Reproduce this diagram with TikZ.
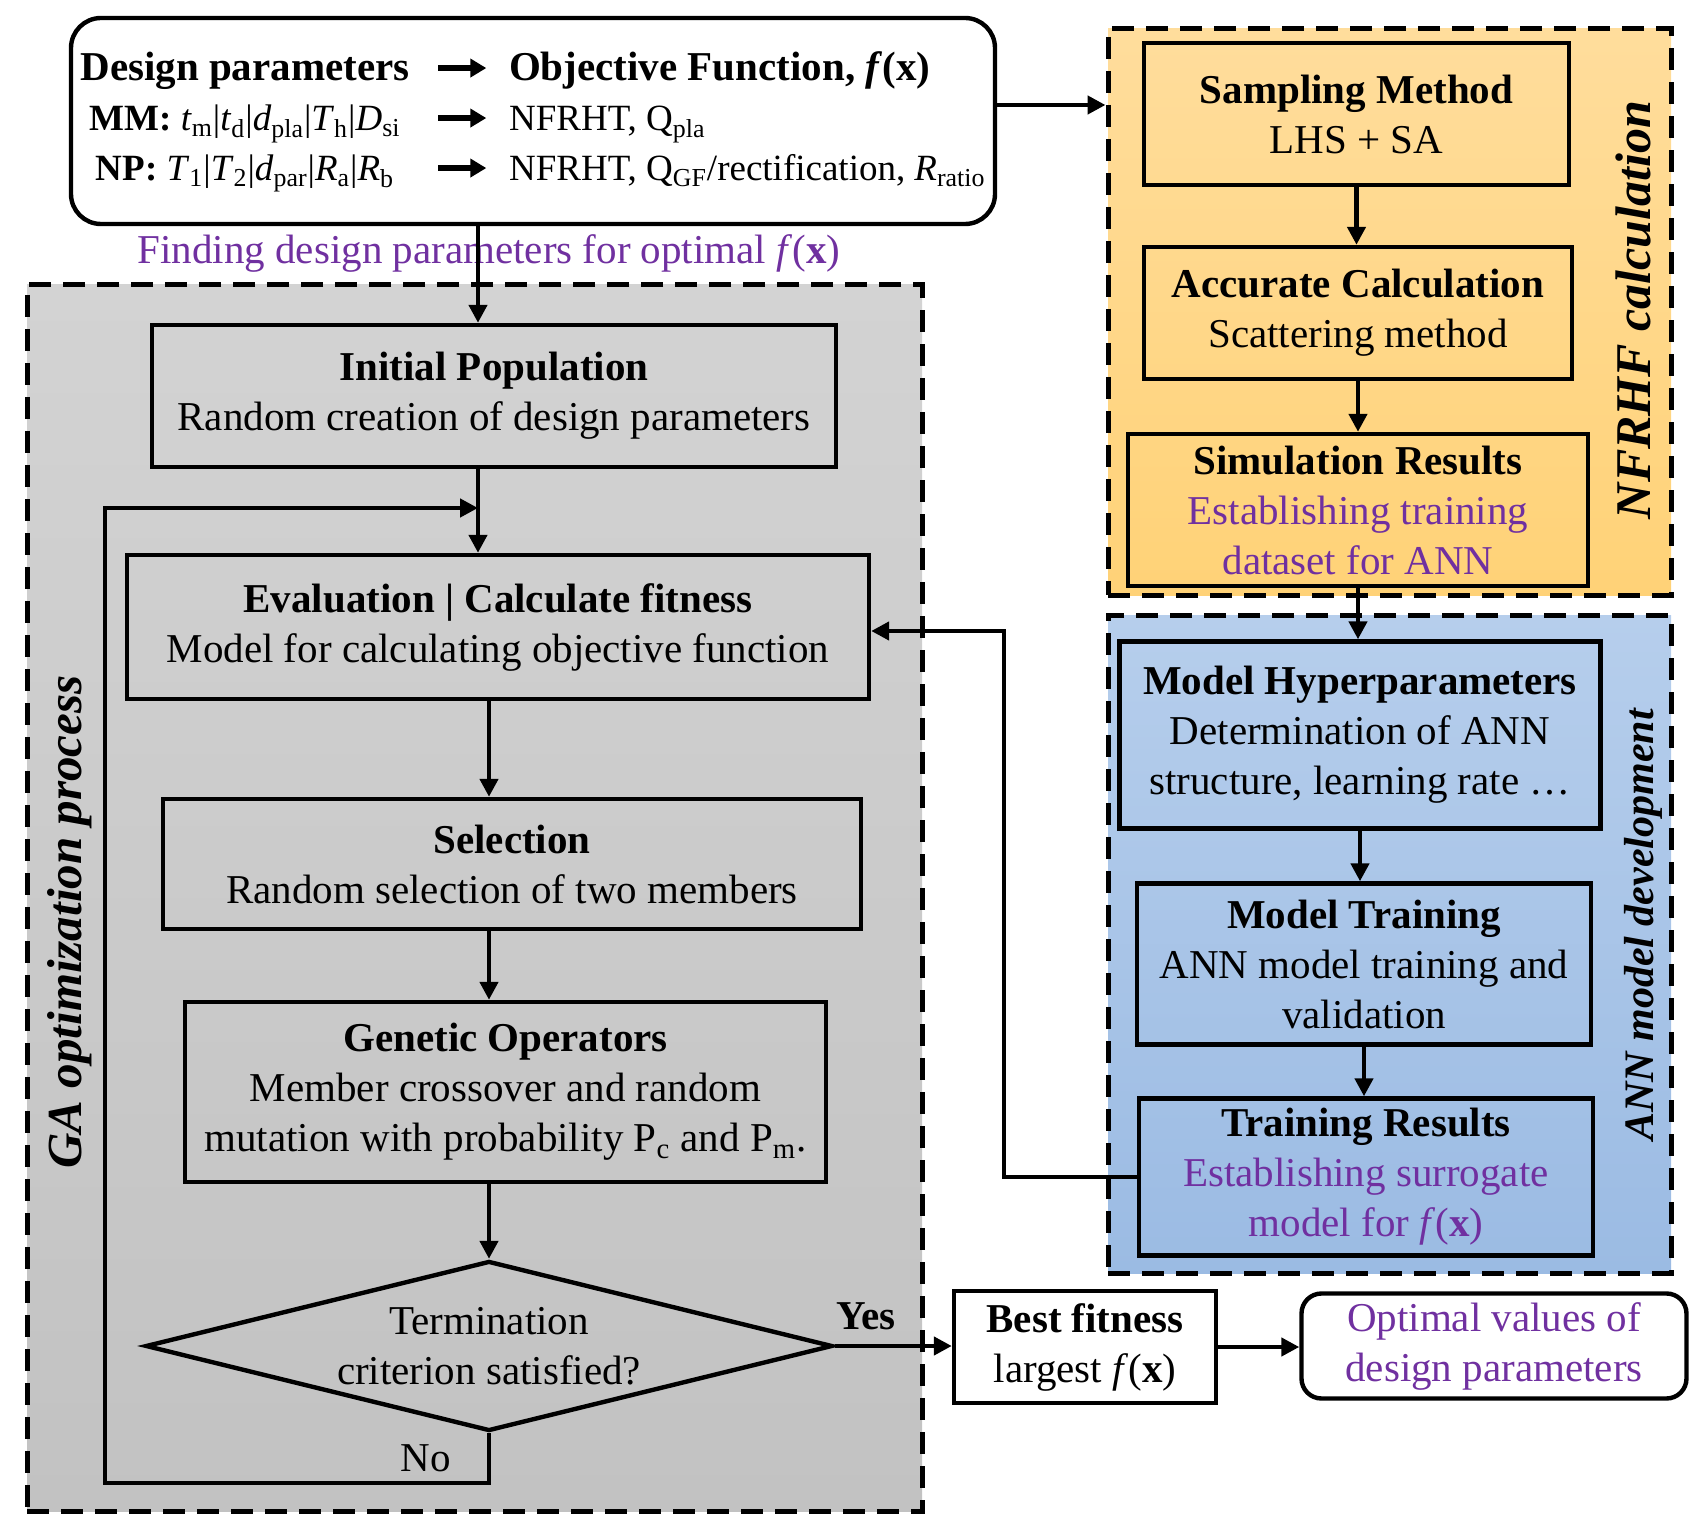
\documentclass[tikz,border=0pt]{standalone}
\usepackage{fontspec}
\setmainfont{Liberation Serif}
\usetikzlibrary{arrows.meta,shapes.geometric}

\definecolor{gaTop}{HTML}{D3D3D3}
\definecolor{gaBot}{HTML}{C2C2C2}
\definecolor{nfTop}{HTML}{FFDD9C}
\definecolor{nfBot}{HTML}{FFD277}
\definecolor{annTop}{HTML}{B6CEEC}
\definecolor{annBot}{HTML}{9BBBE3}
\definecolor{purp}{HTML}{7030A0}

\newcommand{\bigarr}{\tikz[baseline=-0.35em]\draw[line width=2.8pt,-{Triangle[length=8pt,width=9pt]}] (0pt,0pt) -- (24pt,0pt);}
\newcommand{\fx}{\textit{f}(\textbf{x})}

\tikzset{
  box/.style={draw, line width=2.2pt, align=center, inner sep=0pt},
  area/.style={draw, line width=2.5pt, dash pattern=on 11pt off 6pt, inner sep=0pt},
  arr/.style={line width=2.2pt, -{Triangle[length=9pt,width=9pt]}},
  sidelabel/.style={rotate=90, font=\fontsize{24.5}{28}\selectfont\bfseries\itshape}
}

\begin{document}
\begin{tikzpicture}[x=0.5pt, y=-0.5pt, every node/.style={font=\fontsize{20.5}{25}\selectfont}]
  \useasboundingbox (0,0) rectangle (1705,1530);

  % dashed regions
  \node[area, top color=gaTop, bottom color=gaBot, minimum width=447.5pt, minimum height=613pt] (gabox) at (474.5,898) {};
  \node[area, top color=nfTop, bottom color=nfBot, minimum width=281.5pt, minimum height=283pt] (nfbox) at (1389.5,312) {};
  \node[area, top color=annTop, bottom color=annBot, minimum width=281.5pt, minimum height=329pt] (annbox) at (1389.5,944) {};

  \node[sidelabel] (galabel) at (70,922) {GA optimization process};
  \node[sidelabel, font=\fontsize{25}{28}\selectfont\bfseries\itshape] (nflabel) at (1633,310) {NFRHF calculation};
  \node[sidelabel, font=\fontsize{21}{24}\selectfont\bfseries\itshape] (annlabel) at (1643,925) {ANN model development};

  % design parameters
  \node[box, rounded corners=15pt, minimum width=462pt, minimum height=103pt] (design) at (533,121) {%
    \fontsize{18.5}{25}\selectfont
    \begin{tabular}{@{}c@{\hspace{13pt}}c@{\hspace{10pt}}l@{}}
      {\fontsize{20.5}{25}\selectfont\bfseries Design parameters} & \bigarr & {\fontsize{20.5}{25}\selectfont\bfseries Objective Function, \fx}\\
      \textbf{MM:} \textit{t}\textsubscript{m}|\textit{t}\textsubscript{d}|\textit{d}\textsubscript{pla}|\textit{T}\textsubscript{h}|\textit{D}\textsubscript{si} & \bigarr & NFRHT, Q\textsubscript{pla}\\
      \textbf{NP:} \textit{T}\textsubscript{1}|\textit{T}\textsubscript{2}|\textit{d}\textsubscript{par}|\textit{R}\textsubscript{a}|\textit{R}\textsubscript{b} & \bigarr & NFRHT, Q\textsubscript{GF}/rectification, \textit{R}\textsubscript{ratio}
    \end{tabular}};
  \node[text=purp] (findtxt) at (489,253) {Finding design parameters for optimal \fx};

  % GA loop
  \node[box, minimum width=342pt, minimum height=71pt] (init) at (494,396) {\textbf{Initial Population}\\Random creation of design parameters};
  \node[box, minimum width=371pt, minimum height=72pt] (eval) at (498,627) {\textbf{Evaluation | Calculate fitness}\\Model for calculating objective function};
  \node[box, minimum width=349pt, minimum height=65pt] (select) at (512,864) {\textbf{Selection}\\Random selection of two members};
  \node[box, minimum width=320.5pt, minimum height=90pt] (genetic) at (505.5,1092) {\textbf{Genetic Operators}\\Member crossover and random\\mutation with probability P\textsubscript{c} and P\textsubscript{m}.};
  \node[box, diamond, aspect=4, minimum width=343.5pt, minimum height=85pt] (term) at (489,1346) {Termination\\criterion satisfied?};
  \node (yes) at (866,1316) {\textbf{Yes}};
  \node (no) at (426,1458) {No};

  % results
  \node[box, fill=white, minimum width=131pt, minimum height=56pt] (best) at (1085,1347) {\textbf{Best fitness}\\largest \fx};
  \node[box, fill=white, rounded corners=10pt, minimum width=192.5pt, minimum height=52.5pt, text=purp] (optimal) at (1494,1346) {Optimal values of\\design parameters};

  % NFRHF
  \node[box, minimum width=212.5pt, minimum height=71pt] (sampling) at (1356.5,114) {\textbf{Sampling Method}\\LHS + SA};
  \node[box, minimum width=214pt, minimum height=66pt] (accurate) at (1358,313) {\textbf{Accurate Calculation}\\Scattering method};
  \node[box, minimum width=230pt, minimum height=76pt] (simres) at (1358,510) {\textbf{Simulation Results}\\\textcolor{purp}{Establishing training}\\\textcolor{purp}{dataset for ANN}};

  % ANN
  \node[box, minimum width=240.5pt, minimum height=93.5pt] (hyper) at (1360,735) {\textbf{Model Hyperparameters}\\Determination of ANN\\structure, learning rate …};
  \node[box, minimum width=227pt, minimum height=80.5pt] (training) at (1364,964) {\textbf{Model Training}\\ANN model training and\\validation};
  \node[box, minimum width=227pt, minimum height=78.5pt] (trainres) at (1366,1177) {\textbf{Training Results}\\\textcolor{purp}{Establishing surrogate}\\\textcolor{purp}{model for \fx}};

  % connectors
  \coordinate (join) at (478,508);
  \coordinate (loopend) at (105,1483);
  \draw[arr] ([yshift=8pt]design.east) -- ([yshift=8pt]design.east -| nfbox.west);
  \draw[arr] ([xshift=-8pt]init.north |- design.south) -- ([xshift=-8pt]init.north);
  \draw[arr] ([xshift=-8pt]init.south) -- ([xshift=-8pt]init.south |- eval.north);
  \draw[arr] (term.south) |- (loopend) |- (join);
  \draw[arr] (eval.south -| term.north) -- (select.north -| term.north);
  \draw[arr] (select.south -| term.north) -- (genetic.north -| term.north);
  \draw[arr] (genetic.south -| term.north) -- (term.north);
  \draw[arr] (term.east) -- (term.east -| best.west);
  \draw[arr] (best.east) -- (best.east -| optimal.west);
  \draw[arr] (sampling.south) -- (sampling.south |- accurate.north);
  \draw[arr] (accurate.south) -- (accurate.south |- simres.north);
  \draw[arr] (simres.south) -- (simres.south |- hyper.north);
  \draw[arr] (hyper.south) -- (hyper.south |- training.north);
  \draw[arr] (training.south) -- (training.south |- trainres.north);
  \draw[arr] (trainres.west) -- ++(-133,0) |- ([yshift=-2pt]eval.east);
\end{tikzpicture}
\end{document}
